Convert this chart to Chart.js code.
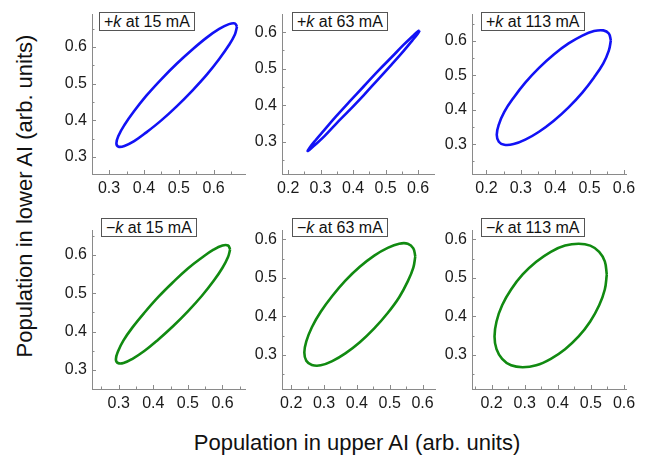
<!DOCTYPE html>
<html>
<head>
<meta charset="utf-8">
<script src="https://cdn.jsdelivr.net/npm/chart.js@4.4.0/dist/chart.umd.min.js"></script>
<style>
body { margin: 0; background: #fff; font-family: "Liberation Sans", Arial, sans-serif; }
#wrap { position: relative; width: 655px; height: 459px; overflow: hidden; }
canvas { position: absolute; }
.tag { position: absolute; border: 1px solid #555; background: #fff; font-size: 16px; line-height: 17px; padding: 0 4px; color: #111; white-space: nowrap; }
.axis-title { position: absolute; font-size: 22px; color: #111; white-space: nowrap; transform: translate(-50%, -50%); }
.axis-title.vert { transform: translate(-50%, -50%) rotate(-90deg); }
</style>
</head>
<body>
<div id="wrap">
  <div class="axis-title vert" style="left:25px; top:196px;">Population in lower AI (arb. units)</div>
  <div class="axis-title" style="left:357px; top:443px;">Population in upper AI (arb. units)</div>
</div>
<script>
// ellipse traces (upper AI, lower AI)
const p1X = [.667,.661,.644,.616,.581,.539,.494,.449,.407,.372,.344,.327,.321,.327,.344,.372,.407,.449,.494,.539,.581,.616,.644,.661];
const p1Y = [.655,.664,.662,.649,.626,.593,.554,.511,.467,.425,.387,.358,.337,.328,.330,.343,.367,.399,.438,.481,.525,.567,.605,.634];

const p2X = [.605,.599,.582,.555,.519,.477,.433,.388,.346,.311,.283,.266,.260,.266,.283,.311,.346,.388,.433,.477,.519,.555,.582,.599];
const p2Y = [.605,.602,.588,.565,.532,.494,.452,.409,.368,.332,.303,.284,.275,.278,.292,.315,.348,.386,.428,.471,.512,.548,.577,.596];

const p3X = [.562,.556,.540,.513,.479,.439,.396,.353,.313,.279,.252,.236,.230,.236,.252,.279,.313,.353,.396,.439,.479,.513,.540,.556];
const p3Y = [.602,.622,.631,.629,.616,.593,.561,.522,.479,.435,.394,.357,.327,.307,.298,.300,.313,.336,.368,.407,.450,.494,.535,.572];

const p4X = [.622,.616,.600,.574,.540,.500,.457,.414,.375,.340,.314,.298,.292,.298,.314,.340,.375,.414,.457,.500,.540,.574,.600,.616];
const p4Y = [.615,.625,.625,.614,.593,.565,.529,.490,.450,.411,.377,.348,.328,.318,.318,.329,.350,.379,.414,.453,.493,.532,.567,.595];

const p5X = [.578,.572,.555,.529,.494,.453,.409,.365,.325,.290,.263,.246,.240,.246,.263,.290,.325,.365,.409,.453,.494,.529,.555,.572];
const p5Y = [.556,.577,.589,.589,.578,.558,.529,.493,.453,.412,.372,.335,.306,.285,.274,.273,.284,.304,.333,.369,.409,.450,.491,.527];

const p6X = [.548,.542,.525,.498,.463,.422,.379,.335,.294,.259,.232,.215,.209,.215,.232,.259,.294,.335,.379,.422,.463,.498,.525,.542];
const p6Y = [.509,.543,.568,.584,.589,.584,.568,.542,.509,.470,.429,.387,.348,.315,.290,.273,.268,.273,.290,.315,.348,.387,.429,.470];

const signs = ['+', '+', '+', '\u2212', '\u2212', '\u2212'];
const currents = ['15 mA', '63 mA', '113 mA', '15 mA', '63 mA', '113 mA'];

const xRanges = [[0.251, 0.69], [0.181, 0.649], [0.158, 0.606], [0.223, 0.665], [0.172, 0.638], [0.141, 0.606]];
const yRanges = [[0.2535, 0.688], [0.212, 0.648], [0.213, 0.677], [0.25, 0.664], [0.2115, 0.623], [0.2115, 0.623]];

const BLUE = '#1212f5';
const GREEN = '#118a11';
const AXIS_COLOR = '#8a8a8a';
const TEXT_COLOR = '#1a1a1a';
const FONT = '"Liberation Sans", Arial, sans-serif';

// plot boxes in page pixels and tag corners
const layout = [
    { l: 92, t: 12, r: 245, b: 174, tx: 99, ty: 12 },
    { l: 282, t: 12, r: 434, b: 174, tx: 292, ty: 12 },
    { l: 472, t: 12, r: 626, b: 174, tx: 481, ty: 12 },
    { l: 92, t: 228, r: 245, b: 389, tx: 101, ty: 218 },
    { l: 282, t: 228, r: 435, b: 389, tx: 292, ty: 218 },
    { l: 472, t: 228, r: 626, b: 389, tx: 481, ty: 218 }
];

const traces = [[p1X, p1Y], [p2X, p2Y], [p3X, p3Y], [p4X, p4Y], [p5X, p5Y], [p6X, p6Y]];

function isMajor(v) {
    return Math.abs(v * 10 - Math.round(v * 10)) < 1e-6;
}

// Origin-style ticks pointing into the plot
const innerTicks = {
    id: 'innerTicks',
    afterDraw(chart) {
        const ctx = chart.ctx;
        const area = chart.chartArea;
        ctx.save();
        ctx.strokeStyle = AXIS_COLOR;
        ctx.lineWidth = 1;
        ['x', 'y'].forEach(id => {
            const sc = chart.scales[id];
            sc.ticks.forEach(tk => {
                const len = isMajor(tk.value) ? 4 : 2.5;
                const p = Math.round(sc.getPixelForValue(tk.value)) + 0.5;
                ctx.beginPath();
                if (id === 'x') {
                    ctx.moveTo(p, area.bottom);
                    ctx.lineTo(p, area.bottom - len);
                } else {
                    ctx.moveTo(area.left, p);
                    ctx.lineTo(area.left + len, p);
                }
                ctx.stroke();
            });
        });
        ctx.restore();
    }
};

function axisOptions(range, isX) {
    return {
        type: 'linear',
        position: isX ? 'bottom' : 'left',
        min: range[0],
        max: range[1],
        grid: { display: false, drawTicks: false },
        border: { color: AXIS_COLOR, width: 1 },
        ticks: {
            stepSize: 0.05,
            includeBounds: false,
            autoSkip: false,
            maxRotation: 0,
            minRotation: 0,
            padding: 5,
            color: TEXT_COLOR,
            font: { size: 16, family: FONT },
            callback: v => isMajor(v) ? v.toFixed(1) : ''
        },
        afterFit(scale) {
            if (isX) scale.height = 30;
            else scale.width = 45;
        }
    };
}

function buildPanel(i) {
    const wrap = document.getElementById('wrap');
    const box = layout[i];
    const w = box.r - box.l + 45 + 20;
    const h = box.b - box.t + 12 + 30;

    const canvas = document.createElement('canvas');
    canvas.width = w;
    canvas.height = h;
    canvas.style.left = (box.l - 45) + 'px';
    canvas.style.top = (box.t - 12) + 'px';
    canvas.style.width = w + 'px';
    canvas.style.height = h + 'px';
    wrap.appendChild(canvas);

    const xs = traces[i][0];
    const ys = traces[i][1];
    const pts = xs.map((x, k) => ({ x: x, y: ys[k] }));
    pts.push({ x: xs[0], y: ys[0] });

    new Chart(canvas, {
        type: 'scatter',
        data: {
            datasets: [{
                data: pts,
                showLine: true,
                borderColor: i < 3 ? BLUE : GREEN,
                borderWidth: 2.6,
                pointRadius: 0,
                tension: 0.4,
                fill: false
            }]
        },
        options: {
            responsive: false,
            animation: false,
            devicePixelRatio: 1,
            layout: { padding: { top: 12, right: 20, left: 0, bottom: 0 } },
            plugins: { legend: { display: false }, tooltip: { enabled: false } },
            scales: {
                x: axisOptions(xRanges[i], true),
                y: axisOptions(yRanges[i], false)
            }
        },
        plugins: [innerTicks]
    });

    const tag = document.createElement('div');
    tag.className = 'tag';
    tag.style.left = box.tx + 'px';
    tag.style.top = box.ty + 'px';
    tag.innerHTML = signs[i] + '<i>k</i> at ' + currents[i];
    wrap.appendChild(tag);
}

for (let i = 0; i < 6; i++) buildPanel(i);
</script>
</body>
</html>
